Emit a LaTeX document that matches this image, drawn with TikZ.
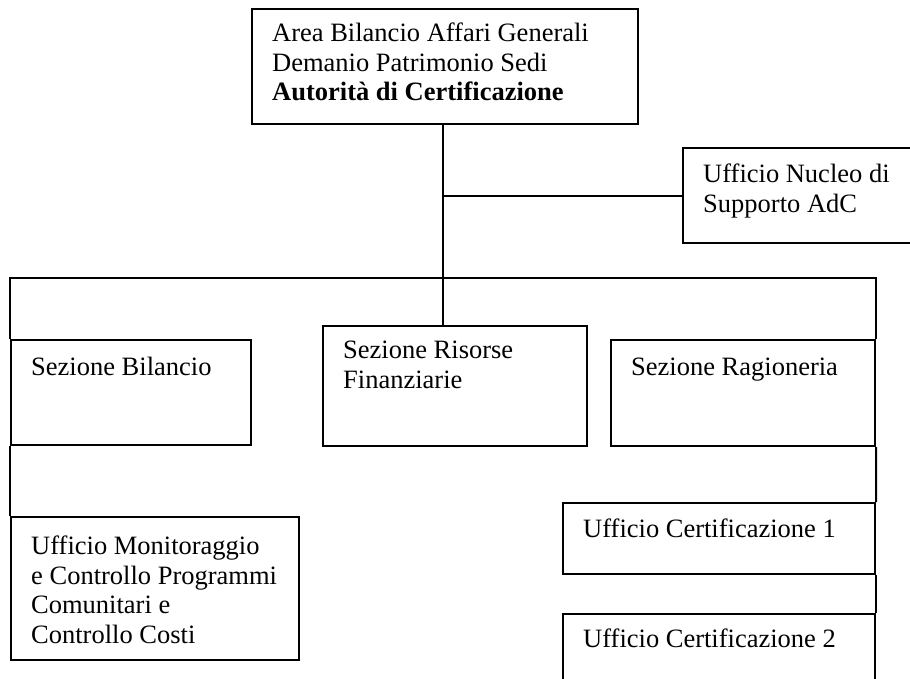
\documentclass[tikz,border=0pt]{standalone}
\usepackage{fontspec}
\setmainfont{Liberation Serif}
\begin{document}
\begin{tikzpicture}[x=1bp,y=-1bp,
  box/.style={draw,line width=2bp,inner sep=0pt,anchor=north west},
  % multi-line labels are placed by the baseline of their last line
  label/.style={inner sep=0pt,anchor=base west,align=left,
    font=\fontsize{26.5bp}{29.5bp}\selectfont},
  link/.style={line width=2bp}]
\useasboundingbox (0,0) rectangle (910,679);
% boxes
\node[box,minimum width=386bp,minimum height=115bp] (area) at (251,8) {};
\node[box,minimum width=240bp,minimum height=95bp] (nucleo) at (682,147) {};
\node[box,minimum width=240bp,minimum height=105bp] (bilancio) at (10,339) {};
\node[box,minimum width=264bp,minimum height=120bp] (risorse) at (322,325) {};
\node[box,minimum width=264bp,minimum height=106bp] (ragioneria) at (610,339) {};
\node[box,minimum width=288bp,minimum height=143bp] (monitor) at (10,516) {};
\node[box,minimum width=312bp,minimum height=71bp] (cert1) at (562,502) {};
\node[box,minimum width=312bp,minimum height=90bp] (cert2) at (562,613) {};
% texts
\node[label] (tarea) at (272,101) {Area Bilancio Affari Generali\\Demanio Patrimonio Sedi\\\textbf{Autorità di Certificazione}};
\node[label] (tnucleo) at (703,212) {Ufficio Nucleo di\\Supporto AdC};
\node[label] (tbilancio) at (31,375) {Sezione Bilancio};
\node[label] (trisorse) at (343,388) {Sezione Risorse\\Finanziarie};
\node[label] (tragioneria) at (631,375) {Sezione Ragioneria};
\node[label] (tmonitor) at (31,643) {Ufficio Monitoraggio\\e Controllo Programmi\\Comunitari e\\Controllo Costi};
\node[label] (tcert1) at (583,537) {Ufficio Certificazione 1};
\node[label] (tcert2) at (583,647) {Ufficio Certificazione 2};
% connectors
\coordinate (trunk) at ([xshift=-2bp]area.south);
\coordinate (bus) at (trunk |- 0,278);
\draw[link] (trunk) -- (trunk |- risorse.north);
\draw[link] (trunk |- nucleo.west) -- (nucleo.west);
\draw[link] (bilancio.north west) |- (bus) -| (ragioneria.north east);
\draw[link] (bilancio.south west) -- (monitor.north west);
\draw[link] (ragioneria.south east) -- (cert1.north east);
\draw[link] (cert1.south east) -- (cert2.north east);
\end{tikzpicture}
\end{document}
